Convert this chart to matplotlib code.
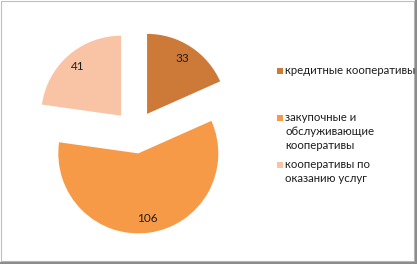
import matplotlib
matplotlib.use("Agg")
import matplotlib.pyplot as plt
from matplotlib.patches import Rectangle

# ========== DATA ==========
labels = ["кредитные кооперативы",
          "закупочные и\nобслуживающие\nкооперативы",
          "кооперативы по\nоказанию услуг"]
values = [33, 106, 41]
colors = ["#CD7A39", "#F79A48", "#F9C3A6"]

plt.rcParams['font.family'] = ['Lato', 'DejaVu Sans']

W, H = 417, 264
fig = plt.figure(figsize=(W / 100, H / 100), dpi=100)

# pie axes: center ~ (135, 132) px, radius ~ 80 px
S = 256
cx, cy = 135.3, H - 132
ax = fig.add_axes([(cx - S / 2) / W, (cy - S / 2) / H, S / W, S / H])
total = sum(values)
wedges, texts, autotexts = ax.pie(
    values, colors=colors, startangle=90, counterclock=False,
    explode=[0.27] * len(values), radius=1.0,
    autopct=lambda p: f"{round(p * total / 100):d}", pctdistance=0.82,
    wedgeprops=dict(linewidth=0), textprops=dict(fontsize=8.5, color="#1E1E1E"))
ax.set_xlim(-1.6, 1.6)
ax.set_ylim(-1.6, 1.6)
ax.set_aspect('equal')
ax.axis('off')

# ========== LEGEND ==========
leg_y = [71, 118, 165]   # first-line centers, px from top
for lab, col, y in zip(labels, colors, leg_y):
    fig.patches.append(Rectangle(((276.5) / W, (H - y - 3) / H), 6 / W, 6 / H,
                                 transform=fig.transFigure, facecolor=col,
                                 edgecolor='none'))
    fig.text(285 / W, (H - y + 6) / H, lab, fontsize=8.2, color="#1E1E1E",
             va='top', ha='left', linespacing=1.32)

# ========== FRAME ==========
fig.patches.append(Rectangle((0.5 / W, 3 / H), 413.5 / W, 260.5 / H,
                             transform=fig.transFigure, fill=False,
                             edgecolor="#BFBFBF", linewidth=0.8))
fig.patches.append(Rectangle((414.5 / W, 0), 2.5 / W, 1,
                             transform=fig.transFigure, color="#8C8C8C"))
fig.patches.append(Rectangle((0, 0), 1, 2.5 / H,
                             transform=fig.transFigure, color="#8C8C8C"))

fig.savefig("out.png", dpi=100)
